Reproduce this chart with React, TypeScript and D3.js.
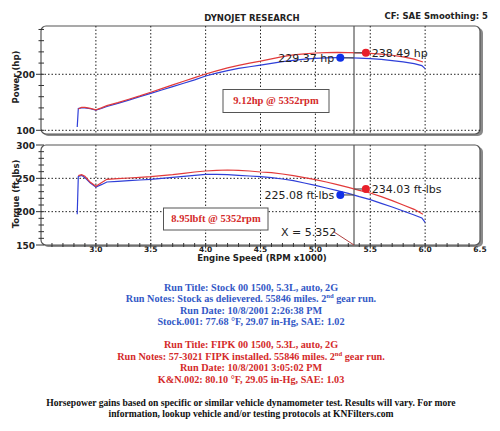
import React from 'react';
import * as d3 from 'd3';

// Stock run (blue)
const stockRpm = [2.83, 2.84, 2.87, 2.9, 2.95, 3.0, 3.05, 3.1, 3.2, 3.3, 3.4, 3.5, 3.6, 3.7, 3.8, 3.9, 4.0, 4.1, 4.2, 4.3, 4.4, 4.5, 4.6, 4.7, 4.8, 4.9, 5.0, 5.1, 5.2, 5.3, 5.4, 5.5, 5.6, 5.7, 5.8, 5.9, 5.97, 6.0];
const stockHp = [106, 139, 140, 140, 138.5, 136, 139, 142.5, 148, 154, 160, 166, 172, 178, 184, 190, 197, 202, 206.5, 210.5, 213.5, 216.5, 219.5, 222.5, 225, 227, 228.5, 229.3, 229.6, 229.5, 229, 228, 226.5, 224.5, 222, 219, 215.5, 210];
const stockTq = [196, 253, 254.5, 251, 243, 237, 240.5, 244.5, 245.5, 246.5, 247.5, 248.5, 250, 251.5, 253, 254.5, 256, 256, 255.5, 254.5, 253.5, 252.5, 251, 249, 246.5, 243, 239.5, 235.5, 231.5, 227.5, 222.5, 218, 212.5, 207, 201, 195, 190.5, 184];

// FIPK run (red)
const fipkRpm = [2.84, 2.87, 2.9, 2.95, 3.0, 3.05, 3.1, 3.2, 3.3, 3.4, 3.5, 3.6, 3.7, 3.8, 3.9, 4.0, 4.1, 4.2, 4.3, 4.4, 4.5, 4.6, 4.7, 4.8, 4.9, 5.0, 5.1, 5.2, 5.3, 5.4, 5.5, 5.6, 5.7, 5.8, 5.9, 5.98];
const fipkHp = [138, 141, 141, 139, 136.5, 140, 144, 149.5, 155.5, 161.5, 168, 174.5, 181, 187.5, 194, 200.5, 206, 211.5, 216, 220, 223.5, 227.5, 231.5, 234.5, 236.5, 238, 238.8, 239, 238.7, 238.3, 237.5, 236, 234, 231, 227, 222];
const fipkTq = [254, 255.5, 253, 244, 238, 243.5, 248.5, 249.5, 250.5, 251.5, 252.5, 254, 255.5, 257.5, 259.5, 261, 262, 262.5, 262, 261, 259.5, 258.5, 256.5, 254, 251, 248, 244.5, 240.5, 236.5, 232, 228, 222.5, 216.5, 210, 203.5, 196];

const xTicks = [3.0, 3.5, 4.0, 4.5, 5.0, 5.5, 6.0, 6.5];
const hpLabels = [100, 200];
const tqLabels = [150, 200, 250, 300];
const cursorRpm = 5.352;

// markers beside the cursor
const hpMarkers = [
  { rpm: 5.227, value: 229.37, label: '229.37 hp', run: 'stock' },
  { rpm: 5.46, value: 238.49, label: '238.49 hp', run: 'fipk' },
];
const tqMarkers = [
  { rpm: 5.227, value: 225.08, label: '225.08 ft-lbs', run: 'stock' },
  { rpm: 5.46, value: 234.03, label: '234.03 ft-lbs', run: 'fipk' },
];

const stockLines = [
  'Run Title: Stock 00 1500, 5.3L, auto, 2G',
  'Run Notes: Stock as delievered. 55846 miles. 2|nd| gear run.',
  'Run Date: 10/8/2001 2:26:38 PM',
  'Stock.001: 77.68 °F, 29.07 in-Hg, SAE: 1.02',
];
const fipkLines = [
  'Run Title: FIPK 00 1500, 5.3L, auto, 2G',
  'Run Notes: 57-3021 FIPK installed. 55846 miles. 2|nd| gear run.',
  'Run Date: 10/8/2001 3:05:02 PM',
  'K&N.002: 80.10 °F, 29.05 in-Hg, SAE: 1.03',
];
const footerLines = [
  'Horsepower gains based on specific or similar vehicle dynamometer test. Results will vary. For more',
  'information, lookup vehicle and/or testing protocols at KNFilters.com',
];

const BLUE = '#2f3fd8';
const RED = '#e23a3a';
const BLUE_TXT = '#3358c6';
const RED_TXT = '#d42a2a';
const SANS = '"DejaVu Sans", Verdana, sans-serif';
const SERIF = '"Liberation Serif", "Times New Roman", serif';

const x = d3.scaleLinear().domain([2.5, 6.5]).range([41, 480]);
const yHp = d3.scaleLinear().domain([93.4, 286.2]).range([134, 26]);
const yTq = d3.scaleLinear().domain([150, 300]).range([245, 145]);

function RichLine({ text, y, fill, size }: { text: string; y: number; fill: string; size: number }) {
  const parts = text.split('|');
  return (
    <text x={251} y={y} textAnchor="middle" fill={fill} fontFamily={SERIF} fontWeight="bold" fontSize={size}>
      {parts.map((p, i) =>
        i % 2 === 1 ? (
          <tspan key={i} fontSize={size * 0.65} dy={-4}>{p}</tspan>
        ) : (
          <tspan key={i} dy={i > 0 ? 4 : 0}>{p}</tspan>
        )
      )}
    </text>
  );
}

function Panel({ y, gridVals, labels, minorVals, showX }: any) {
  const [y0, y1] = y.range();
  return (
    <g>
      <rect x={43} y={y1 + 2} width={440} height={y0 - y1} rx={5} fill="#8a8a8a" />
      <rect x={41} y={y1} width={439} height={y0 - y1} rx={5} fill="#fff" stroke="#555" strokeWidth={1.2} />
      {xTicks.filter(t => t < 6.5).map(t => (
        <line key={t} x1={x(t)} x2={x(t)} y1={y1} y2={y0} stroke="#222" strokeDasharray="1.5,2" />
      ))}
      {gridVals.map((v: number) => (
        <line key={v} x1={41} x2={480} y1={y(v)} y2={y(v)} stroke="#222" strokeDasharray="1.5,2" />
      ))}
      {minorVals.map((v: number) => (
        <line key={v} x1={labels.includes(v) ? 36 : 38.5} x2={44} y1={y(v)} y2={y(v)} stroke="#333" strokeWidth={1} />
      ))}
      {labels.map((v: number) => (
        <text key={v} x={35} y={y(v) + 3.5} textAnchor="end" fontFamily={SANS} fontWeight="bold" fontSize={9} fill="#222">{v}</text>
      ))}
      {showX && d3.range(26, 65).map(i => i / 10).map(t => (
        <line key={t} x1={x(t)} x2={x(t)} y1={y0 - 2} y2={y0 + (Math.abs(t * 2 - Math.round(t * 2)) < 0.01 ? 3.5 : 2)} stroke="#333" />
      ))}
      <line x1={x(cursorRpm)} x2={x(cursorRpm)} y1={y1} y2={y0} stroke="#555" strokeWidth={1.2} />
    </g>
  );
}

export default function App() {
  const hpLine = (rpm: number[], v: number[]) =>
    d3.line<number>().x((_, i) => x(rpm[i])).y(d => yHp(d))(v) || '';
  const tqLine = (rpm: number[], v: number[]) =>
    d3.line<number>().x((_, i) => x(rpm[i])).y(d => yTq(d))(v) || '';

  const markers = (list: any[], y: any, dy: number) =>
    list.map(m => {
      const c = m.run === 'stock' ? '#1030e8' : '#e8202a';
      const cx = x(m.rpm);
      const cy = y(m.value);
      const left = m.run === 'stock';
      return (
        <g key={m.label}>
          <line x1={cx} x2={x(cursorRpm)} y1={cy} y2={cy} stroke="#555" strokeWidth={1.2} />
          <circle cx={cx} cy={cy} r={4} fill={c} />
          <text x={left ? cx - 6 : cx + 6} y={cy + dy} textAnchor={left ? 'end' : 'start'} fontFamily={SANS} fontSize={11} fill="#222">{m.label}</text>
        </g>
      );
    });

  return (
    <div style={{ position: 'fixed', left: 0, top: 0 }}>
      <svg width={500} height={431} style={{ display: 'block', background: '#fff' }}>
        <text x={252} y={21} textAnchor="middle" fontFamily={SANS} fontWeight="bold" fontSize={8.5} fill="#222">DYNOJET RESEARCH</text>
        <text x={488} y={19} textAnchor="end" fontFamily={SANS} fontWeight="bold" fontSize={8.5} fill="#222">CF: SAE  Smoothing: 5</text>

        <Panel y={yHp} gridVals={[100, 200]} labels={hpLabels} minorVals={d3.range(100, 290, 20)} showX={false} />
        <Panel y={yTq} gridVals={[200, 250]} labels={tqLabels} minorVals={d3.range(150, 301, 10)} showX={true} />

        <text transform="translate(19,77) rotate(-90)" textAnchor="middle" fontFamily={SANS} fontWeight="bold" fontSize={8.5} fill="#222">Power (hp)</text>
        <text transform="translate(19,194) rotate(-90)" textAnchor="middle" fontFamily={SANS} fontWeight="bold" fontSize={8.5} fill="#222">Torque (ft-lbs)</text>

        <path d={hpLine(stockRpm, stockHp)} fill="none" stroke={BLUE} strokeWidth={1.2} />
        <path d={hpLine(fipkRpm, fipkHp)} fill="none" stroke={RED} strokeWidth={1.2} />
        <path d={tqLine(stockRpm, stockTq)} fill="none" stroke={BLUE} strokeWidth={1.2} />
        <path d={tqLine(fipkRpm, fipkTq)} fill="none" stroke={RED} strokeWidth={1.2} />

        {markers(hpMarkers, yHp, 4)}
        {markers(tqMarkers, yTq, 4)}

        <rect x={223} y={89.5} width={106} height={23} fill="#fff" stroke="#555" strokeWidth={1} />
        <text x={276} y={104} textAnchor="middle" fontFamily={SERIF} fontWeight="bold" fontSize={10.5} fill={RED_TXT}>9.12hp @ 5352rpm</text>
        <rect x={163.5} y={208} width={104.5} height={22} fill="#fff" stroke="#555" strokeWidth={1} />
        <text x={216} y={222} textAnchor="middle" fontFamily={SERIF} fontWeight="bold" fontSize={10.5} fill={RED_TXT}>8.95lbft @ 5352rpm</text>

        <text x={281} y={235.5} fontFamily={SANS} fontSize={11} fill="#222">X = 5.352</text>
        <line x1={334} y1={232} x2={x(cursorRpm)} y2={245} stroke="#b04040" strokeWidth={1} />

        {xTicks.map(t => (
          <text key={t} x={x(t)} y={252} textAnchor="middle" fontFamily={SANS} fontWeight="bold" fontSize={7.5} fill="#222">{t.toFixed(1)}</text>
        ))}
        <text x={262} y={261} textAnchor="middle" fontFamily={SANS} fontWeight="bold" fontSize={8.5} fill="#222">Engine Speed (RPM x1000)</text>

        {stockLines.map((s, i) => (
          <RichLine key={s} text={s} y={290.5 + i * 11.5} fill={BLUE_TXT} size={10.2} />
        ))}
        {fipkLines.map((s, i) => (
          <RichLine key={s} text={s} y={348 + i * 11.5} fill={RED_TXT} size={10.2} />
        ))}
        {footerLines.map((s, i) => (
          <RichLine key={s} text={s} y={406 + i * 11} fill="#111" size={9.6} />
        ))}
      </svg>
    </div>
  );
}
